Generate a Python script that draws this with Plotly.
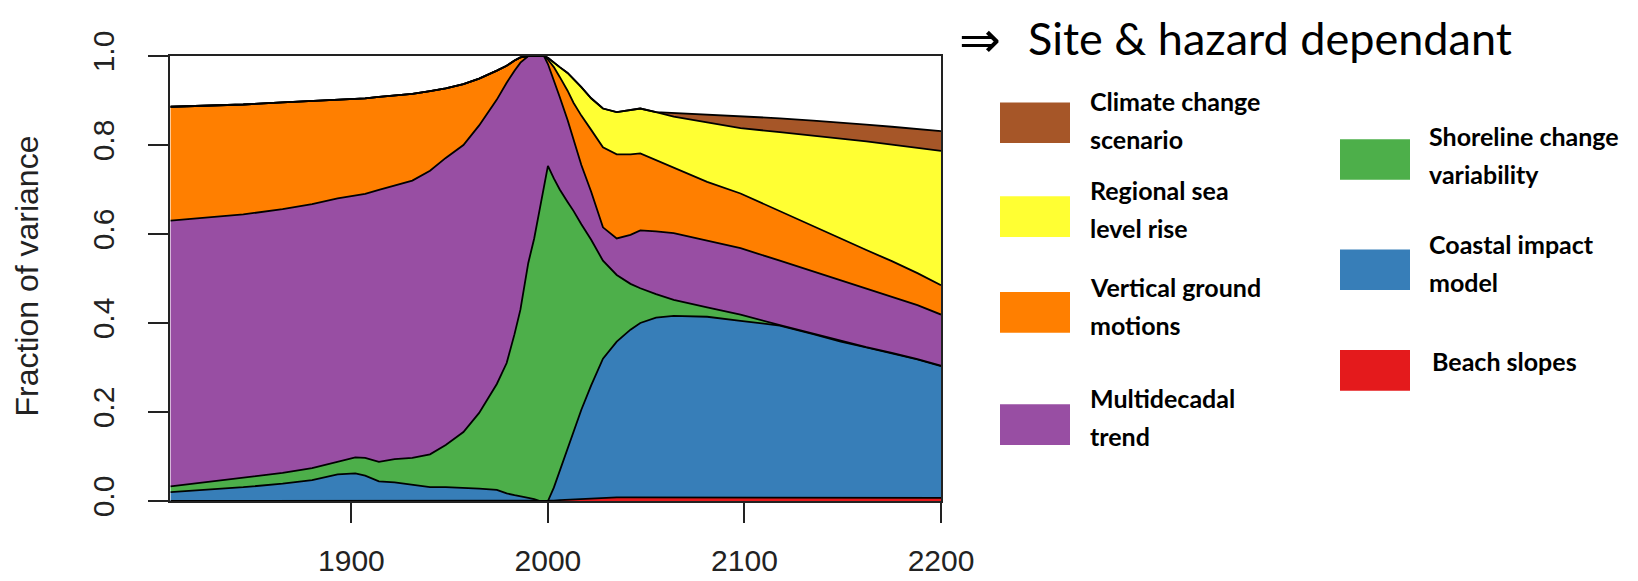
import plotly.graph_objects as go

# ---------------- data (fraction of variance, stacked) ----------------
years = [1808, 1825, 1845, 1865, 1880, 1893, 1902, 1907, 1914, 1922,
         1931, 1940, 1948, 1957, 1965, 1974, 1979, 1983, 1986, 1990,
         1993, 1996, 1998, 2000, 2003, 2006, 2010, 2013, 2017, 2022,
         2028, 2035, 2042, 2047, 2055, 2064, 2081, 2098, 2118, 2135,
         2149, 2162, 2175, 2188, 2200]

beach_slopes = [0] * 24 + [.001, .002, .003, .004, .005, .006, .007, .008, .008, .008,
                           .008, .008, .008, .008, .008, .008, .008, .008, .008, .008, .007]

coastal_impact = [.020, .025, .031, .039, .047, .060, .062, .057, .044, .042,
                  .036, .031, .031, .030, .028, .025, .017, .013, .011, .007,
                  .004, 0, 0, 0, .029, .065, .112, .151, .200, .254,
                  .313, .350, .377, .392, .404, .408, .406, .397, .386, .367,
                  .350, .337, .324, .310, .296]

shoreline_var = [.013, .017, .021, .024, .027, .029, .036, .040, .044, .052,
                 .061, .074, .095, .125, .170, .238, .293, .362, .419, .528,
                 .586, .660, .710, .753, .695, .633, .557, .497, .417, .327,
                 .220, .150, .103, .078, .053, .036, .021, .014, .001, .001,
                 .001, .001, .001, .001, .001]

multidecadal = [.597, .594, .592, .593, .593, .591, .588, .593, .611, .615,
                .623, .637, .645, .645, .646, .639, .630, .592, .555, .465,
                .410, .340, .290, .229, .221, .208, .184, .163, .133, .108,
                .075, .082, .110, .130, .141, .150, .150, .149, .145, .140,
                .137, .131, .126, .121, .115]

vertical_ground = [.256, .252, .247, .240, .232, .222, .218, .215, .209, .202,
                   .195, .179, .156, .137, .105, .065, .038, .023, .012, 0,
                   0, 0, 0, .010, .029, .045, .066, .080, .111, .139,
                   .180, .189, .181, .173, .160, .148, .132, .123, .112, .102,
                   .094, .087, .080, .072, .066]

regional_slr = [0] * 23 + [.004, .010, .022, .040, .054, .064, .071, .087, .095, .099,
                           .101, .108, .114, .134, .147, .177, .203, .225, .244, .262,
                           .282, .302]

climate_scenario = [0] * 35 + [.008, .018, .028, .031, .034, .036, .038, .040, .042, .044]

series_names = ["Beach slopes", "Coastal impact model", "Shoreline change variability",
                "Multidecadal trend", "Vertical ground motions", "Regional sea level rise",
                "Climate change scenario"]
series_values = [beach_slopes, coastal_impact, shoreline_var, multidecadal,
                 vertical_ground, regional_slr, climate_scenario]
series_colors = ["#E41A1C", "#377EB8", "#4DAF4A", "#984EA3", "#FF7F00", "#FFFF33", "#A65628"]

x_ticks = [1900, 2000, 2100, 2200]
y_ticks = [0.0, 0.2, 0.4, 0.6, 0.8, 1.0]

# legend layout: (label lines, colour index)
legend_left = [(["Climate change", "scenario"], 6),
               (["Regional sea", "level rise"], 5),
               (["Vertical ground", "motions"], 4),
               (["Multidecadal", "trend"], 3)]
legend_right = [(["Shoreline change", "variability"], 2),
                (["Coastal impact", "model"], 1),
                (["Beach slopes"], 0)]

# ---------------- figure ----------------
W, H = 1638, 581
L, R, T, B = 162, 933, 48, 508

fig = go.Figure()
for name, vals, col in zip(series_names, series_values, series_colors):
    fig.add_trace(go.Scatter(
        x=years, y=vals, name=name, mode="lines", stackgroup="one",
        line=dict(color="black", width=1.8), fillcolor=col, showlegend=False,
        hoverinfo="x+y+name"))


def px_x(p):
    return (p - L) / (R - L)


def px_y(p):
    return (B - p) / (B - T)


shapes = []
annotations = []

# y-axis title
annotations.append(dict(text="Fraction of variance", x=px_x(19), y=px_y(276),
                        xref="paper", yref="paper", showarrow=False, textangle=-90,
                        xanchor="center", yanchor="middle",
                        font=dict(family="Liberation Sans, Arial", size=32, color="#222222")))

# header
annotations.append(dict(text="\u21d2", x=px_x(950), y=px_y(0), xref="paper", yref="paper",
                        showarrow=False, xanchor="left", yanchor="top", borderpad=0,
                        font=dict(family="DejaVu Sans", size=50, color="black")))
annotations.append(dict(text="Site & hazard dependant", x=px_x(1019), y=px_y(0),
                        xref="paper", yref="paper", showarrow=False, borderpad=0,
                        xanchor="left", yanchor="top",
                        font=dict(family="Lato", size=45, color="black")))

LEG_FONT = 25
left_swatch_tops = [96, 193, 292, 408]
left_text_base = [110, 202, 302, 417]
right_swatch_tops = [134, 248, 352]
right_text_base = [146, 258, 378]


def add_item(lines, ci, x0, top, base0, tx):
    shapes.append(dict(type="rect", xref="paper", yref="paper",
                       x0=px_x(x0), x1=px_x(x0 + 70), y0=px_y(top + 42), y1=px_y(top),
                       fillcolor=series_colors[ci], line=dict(width=0)))
    for k, ln in enumerate(lines):
        base = base0 + 39 * k
        annotations.append(dict(text=ln, x=px_x(tx), y=px_y(base - 0.33 * LEG_FONT - 7),
                                xref="paper", yref="paper", showarrow=False,
                                xanchor="left", yanchor="middle",
                                font=dict(family="Lato", size=LEG_FONT, color="black",
                                          weight="bold")))


for (lines, ci), top, base in zip(legend_left, left_swatch_tops, left_text_base):
    add_item(lines, ci, 992, top, base, 1080)
for (lines, ci), top, base in zip(legend_right, right_swatch_tops, right_text_base):
    if len(lines) == 1:
        base = top + 27
        add_item(lines, ci, 1332, top, base, 1422)
    else:
        add_item(lines, ci, 1332, top, base, 1419)

axis_font = dict(family="Liberation Sans, Arial", size=30, color="#222222")
fig.update_layout(
    width=W, height=H,
    margin=dict(l=L, r=W - R, t=T, b=H - B, pad=0),
    paper_bgcolor="white", plot_bgcolor="white",
    xaxis=dict(range=[1807.7, 2200], tickvals=x_ticks, ticktext=[str(v) for v in x_ticks],
               ticks="outside", ticklen=20, tickwidth=2, tickcolor="#222",
               showline=True, linewidth=2, linecolor="#222", mirror=True,
               showgrid=False, zeroline=False, tickfont=axis_font, ticklabelstandoff=12),
    yaxis=dict(range=[0, 1], tickvals=y_ticks, ticktext=["%.1f" % v for v in y_ticks],
               ticks="outside", ticklen=20, tickwidth=2, tickcolor="#222",
               showline=True, linewidth=2, linecolor="#222", mirror=True,
               showgrid=False, zeroline=False, tickfont=axis_font, tickangle=-90,
               ticklabelstandoff=22),
    shapes=shapes, annotations=annotations,
)

fig.write_html("out.html")
